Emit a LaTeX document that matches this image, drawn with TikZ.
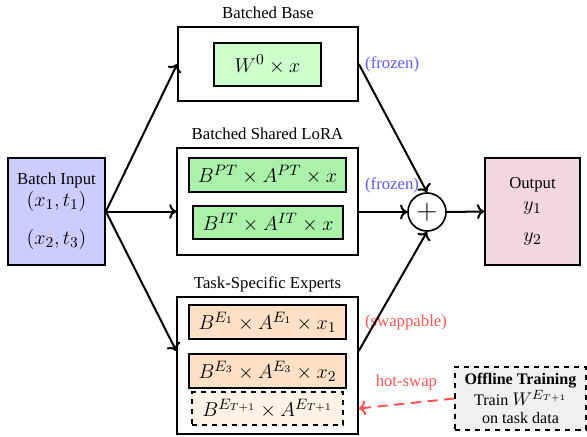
\documentclass[tikz,border=0pt]{standalone}
\usepackage{fontspec}
\setmainfont{Liberation Serif}
\usetikzlibrary{positioning, arrows, arrows.meta}

\definecolor{inputblue}{RGB}{204,204,255}
\definecolor{basegreen}{RGB}{204,255,204}
\definecolor{loragreen}{RGB}{170,242,170}
\definecolor{expertorange}{RGB}{253,224,198}
\definecolor{newexpert}{RGB}{255,243,232}
\definecolor{outpink}{RGB}{242,214,226}
\definecolor{offgray}{RGB}{240,240,240}
\definecolor{frozenblue}{RGB}{90,90,255}
\definecolor{swapred}{RGB}{255,85,85}

\tikzset{
  box/.style={draw, line width=1pt, inner sep=0pt, align=center},
  group/.style={draw, line width=1pt, inner sep=0pt},
  op/.style={draw, line width=1pt, inner sep=0pt, font=\fontsize{13}{16}\selectfont},
  title/.style={inner sep=2pt},
}

\begin{document}
\begin{tikzpicture}[x=0.5975pt, y=-0.5975pt, line width=1pt]
\useasboundingbox (0,0) rectangle (587,436);

\node[box, fill=inputblue, minimum width=58pt, minimum height=64pt] (input) at (56.5,211.5)
    {Batch Input\\[1pt] {\fontsize{13}{16}\selectfont $(x_1,t_1)$}\\[11pt] {\fontsize{13}{16}\selectfont $(x_2,t_3)$}};

% batched base
\node[group, minimum width=107.5pt, minimum height=44.2pt] (base) at (268,64) {};
\node[title, above=2pt of base] (basetitle) {Batched Base};
\node[op, fill=basegreen, minimum width=64pt, minimum height=25.7pt] (w0) at (267.5,64.5) {$W^0 \times x$};

% shared lora
\node[group, minimum width=108pt, minimum height=64pt] (lora) at (267.5,201.5) {};
\node[title, above=2pt of lora] (loratitle) {Batched Shared LoRA};
\node[op, fill=loragreen, minimum width=93.8pt, minimum height=20.3pt] (pt) at (267.5,175) {$B^{PT} \times A^{PT} \times x$};
\node[op, fill=loragreen, minimum width=89.6pt, minimum height=19.7pt] (it) at (268,222.5) {$B^{IT} \times A^{IT} \times x$};

% experts
\node[group, minimum width=108pt, minimum height=81.9pt] (experts) at (267.5,365.5) {};
\node[title, above=0pt of experts] (experttitle) {Task-Specific Experts};
\node[op, fill=expertorange, minimum width=93.8pt, minimum height=20.3pt] (e1) at (267.5,322) {$B^{E_1} \times A^{E_1} \times x_1$};
\node[op, fill=expertorange, minimum width=93.8pt, minimum height=20.3pt] (e2) at (267.5,371) {$B^{E_3} \times A^{E_3} \times x_2$};
\node[op, dashed, fill=newexpert, minimum width=90.2pt, minimum height=19.7pt] (e3) at (267.5,408.5) {$B^{E_{T+1}} \times A^{E_{T+1}}$};

\node[draw, circle, line width=1pt, minimum size=22.7pt, inner sep=0pt, font=\fontsize{19}{20}\selectfont] (plus) at (427,212) {$+$};

\node[box, fill=outpink, minimum width=56.8pt, minimum height=64pt] (output) at (532.5,211.5)
    {Output\\[1pt] {\fontsize{13}{16}\selectfont $y_1$}\\[7pt] {\fontsize{13}{16}\selectfont $y_2$}};

\node[box, dashed, fill=offgray, minimum width=78.3pt, minimum height=37.6pt, font=\fontsize{9.6}{10.4}\selectfont] (offline) at (520.5,398.5)
    {\textbf{Offline Training}\\ Train {\fontsize{11}{12}\selectfont $W^{E_{T+1}}$}\\ on task data};

\node[right, text=frozenblue] at (base.east) {(frozen)};
\node[right, text=frozenblue, yshift=-6pt] at (lora.east |- pt) {(frozen)};
\node[right, text=swapred] at (experts.east |- e1) {(swappable)};

\draw[line width=1.2pt]
    (input.east) edge[->] (base.west)
    (input.east) edge[->] (input.east -| lora.west)
    (input.east) edge[->] ([yshift=8.7pt]experts.west)
    (base.east) edge[->] (plus.north)
    (lora.east |- plus) edge[->] (plus.west)
    ([yshift=8.7pt]experts.east) edge[->] (plus.south)
    (plus.east) edge[->] (output.west)
    ;
\draw[->, line width=1.2pt, swapred, dash pattern=on 6pt off 4pt]
    (offline.west) -- node[above=4pt] {hot-swap} (e3.east -| experts.east);
\end{tikzpicture}
\end{document}
